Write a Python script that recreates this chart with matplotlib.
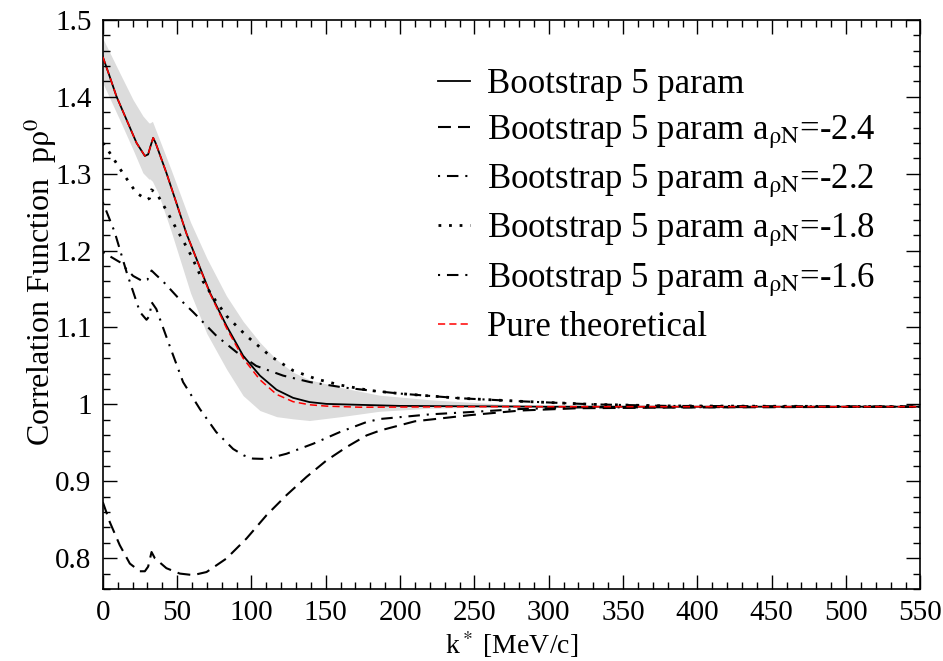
import matplotlib
matplotlib.use("Agg")
import matplotlib.pyplot as plt
import numpy as np

plt.rcParams['font.family'] = ['Liberation Serif', 'DejaVu Serif']
plt.rcParams['mathtext.fontset'] = 'stix'

# ---- data ----
k_main = [0, 4.7, 9.2, 16, 22.7, 28.3, 30.5, 32, 33.9, 35.5, 37.2, 42.8, 49.5, 56.3, 60.8, 72, 83.2,
          94.4, 105.7, 116.9, 128, 139, 150.5, 173, 200, 250, 300, 400, 550]
c_main = [1.452, 1.426, 1.4005, 1.37, 1.34, 1.323, 1.325, 1.335, 1.3466, 1.340, 1.331, 1.301, 1.262,
          1.222, 1.200, 1.1455, 1.1022, 1.0633, 1.0374, 1.019, 1.0085, 1.003, 1.0006, 0.9994, 0.998,
          0.9975, 0.997, 0.997, 0.997]

k_theo = [0, 4.7, 9.2, 16, 22.7, 28.3, 30.5, 32, 33.9, 35.5, 37.2, 42.8, 49.5, 56.3, 60.8, 72, 83.2,
          94.4, 105.7, 116.9, 128, 139, 150.5, 173, 200, 250, 300, 400, 550]
c_theo = [1.452, 1.426, 1.4005, 1.37, 1.34, 1.323, 1.325, 1.335, 1.3466, 1.340, 1.331, 1.301, 1.262,
          1.222, 1.200, 1.1445, 1.0995, 1.060, 1.032, 1.013, 1.0035, 0.9995, 0.9977, 0.9963, 0.9965,
          0.997, 0.997, 0.997, 0.997]

k_band = [0, 11.4, 20.4, 27, 31, 31.8, 33.4, 37.2, 46, 59, 70, 83.2, 94.4, 105.7, 117, 128, 139, 160,
          186, 220, 270, 300, 550]
band_lo = [1.418, 1.370, 1.331, 1.301, 1.293, 1.293, 1.29, 1.275, 1.225, 1.145, 1.092, 1.046, 1.0114,
           0.992, 0.984, 0.9812, 0.979, 0.984, 0.991, 0.995, 0.997, 0.997, 0.997]
band_hi = [1.476, 1.431, 1.396, 1.375, 1.366, 1.366, 1.368, 1.349, 1.305, 1.237, 1.19, 1.141, 1.108,
           1.0806, 1.058, 1.0418, 1.032, 1.022, 1.012, 1.006, 1.0, 0.998, 0.997]

k_m24 = [0, 4.7, 11.4, 18.2, 24.9, 28.3, 30.5, 32.8, 35, 42.8, 51.8, 60.8, 69.8, 83.2, 96.7, 110.2,
         123.6, 137, 150.5, 164, 177.4, 186.5, 210, 247, 281, 320, 400, 550]
c_m24 = [0.873, 0.847, 0.817, 0.793, 0.783, 0.783, 0.789, 0.808, 0.800, 0.787, 0.780, 0.778, 0.782,
         0.7996, 0.8256, 0.856, 0.882, 0.9056, 0.9271, 0.9445, 0.9596, 0.966, 0.978, 0.986, 0.992,
         0.995, 0.996, 0.997]

k_m22 = [0, 8, 16, 25, 29.4, 31.5, 32.8, 36, 45, 54, 65.3, 76.3, 87.7, 95, 101, 110, 123.6, 141.5,
         159.5, 177.4, 186.5, 220, 247, 281, 320, 550]
c_m22 = [1.263, 1.224, 1.172, 1.12, 1.11, 1.115, 1.133, 1.124, 1.076, 1.029, 0.994, 0.964, 0.942,
         0.9335, 0.9295, 0.9290, 0.9358, 0.9488, 0.964, 0.977, 0.981, 0.987, 0.990, 0.994, 0.996, 0.997]

k_m18 = [0, 4.7, 13.7, 22.6, 29.6, 31.5, 32.7, 35.9, 39.4, 49.6, 54, 59.6, 67.4, 74, 83.2, 96.7, 112.6,
         128, 143.6, 160, 180, 200, 240, 281, 330, 380, 550]
c_m18 = [1.34, 1.327, 1.30, 1.275, 1.266, 1.268, 1.279, 1.275, 1.264, 1.228, 1.213, 1.193, 1.160,
         1.14, 1.115, 1.089, 1.063, 1.044, 1.033, 1.025, 1.018, 1.014, 1.008, 1.004, 1.0, 0.998, 0.997]

k_m16 = [0, 11.4, 20.4, 27, 30, 32.8, 36, 40.5, 50, 60.8, 76.5, 89.9, 103.2, 121.3, 139.3, 161.7, 180,
         200, 240, 281, 330, 380, 550]
c_m16 = [1.198, 1.185, 1.167, 1.16, 1.162, 1.174, 1.168, 1.160, 1.14, 1.12, 1.089, 1.068, 1.050,
         1.0374, 1.029, 1.022, 1.018, 1.014, 1.008, 1.004, 1.0, 0.998, 0.997]

labels = ['Bootstrap 5 param',
          r'Bootstrap 5 param a$_{\mathrm{\rho N}}$=-2.4',
          r'Bootstrap 5 param a$_{\mathrm{\rho N}}$=-2.2',
          r'Bootstrap 5 param a$_{\mathrm{\rho N}}$=-1.8',
          r'Bootstrap 5 param a$_{\mathrm{\rho N}}$=-1.6',
          'Pure theoretical']

fig = plt.figure(figsize=(9.43, 6.61), dpi=100)
ax = fig.add_axes([0.109, 0.109, 0.867, 0.861])

ax.fill_between(k_band, band_lo, band_hi, color='#dcdcdc', lw=0, zorder=1)
ax.plot(k_main, c_main, color='black', lw=1.3, label=labels[0], zorder=3)
ax.plot(k_m24, c_m24, color='black', lw=1.5, ls=(0, (6.2, 3.4)), label=labels[1], zorder=3)
ax.plot(k_m22, c_m22, color='black', lw=1.5, ls=(0, (1, 3.3, 5.5, 3.3)), label=labels[2], zorder=3)
ax.plot(k_m18, c_m18, color='black', lw=2.0, ls=(0, (1, 2.8)), label=labels[3], zorder=3)
ax.plot(k_m16, c_m16, color='black', lw=1.5, ls=(0, (1, 3.3, 5.5, 3.3)), label=labels[4], zorder=3)
ax.plot(k_theo, c_theo, color='red', lw=1.1, ls=(0, (4.7, 2.7)), label=labels[5], zorder=4)

ax.set_xlim(0, 550)
ax.set_ylim(0.76, 1.5)
ax.set_xticks(np.arange(0, 551, 50))
ax.set_xticks(np.arange(0, 551, 10), minor=True)
ax.set_yticks([0.8, 0.9, 1.0, 1.1, 1.2, 1.3, 1.4, 1.5])
ax.set_yticklabels(['0.8', '0.9', '1', '1.1', '1.2', '1.3', '1.4', '1.5'])
ax.set_yticks(np.arange(0.76, 1.501, 0.02), minor=True)
ax.tick_params(which='both', direction='in', top=True, right=True, labelsize=21, pad=8)
ax.tick_params(which='major', length=10, width=1)
ax.tick_params(which='minor', length=5, width=1)
for s in ax.spines.values():
    s.set_linewidth(1.2)

ax.set_xlabel(r'k$^*$ [MeV/c]', fontsize=20, labelpad=2)
ax.set_ylabel(r'Correlation Function  p$\mathrm{\rho}^{0}$', fontsize=23)
ax.yaxis.set_label_coords(-0.054, 0.54)

leg = ax.legend(loc='upper left', bbox_to_anchor=(0.41, 0.915), frameon=False, fontsize=25,
                handlelength=0.92, handletextpad=0.5, labelspacing=0.35, borderpad=0,
                borderaxespad=0)

fig.savefig('out.png', dpi=100)
